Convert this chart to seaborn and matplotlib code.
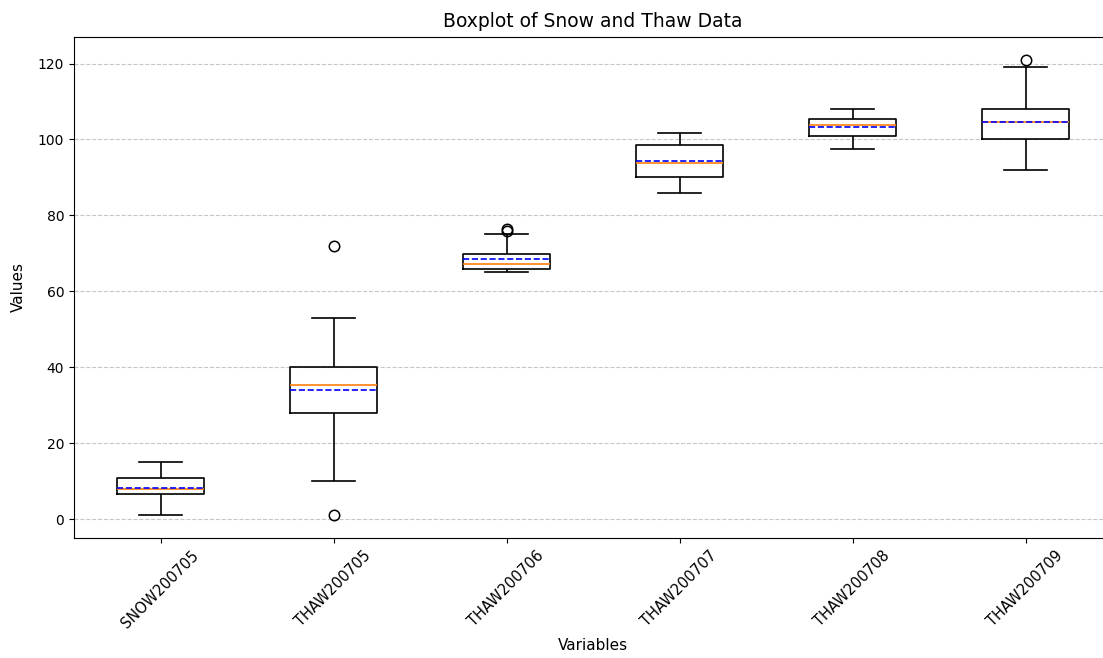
import matplotlib
matplotlib.use("Agg")
import matplotlib.pyplot as plt
import seaborn as sns
import pandas as pd

# Variables (categories)
variables = ["SNOW200705", "THAW200705", "THAW200706", "THAW200707", "THAW200708", "THAW200709"]

# Sample values per variable (chosen to reproduce the quartiles, whiskers, means and outliers)
snow200705 = [1, 4, 6.6, 7.2, 8, 9, 10.8, 11.3, 15]
thaw200705 = [1, 10, 20, 28, 30, 33, 35.3, 37, 39, 40, 45, 53, 72]
thaw200706 = [65, 65, 65.2, 65.5, 66, 66, 66.2, 66.5, 67.3, 67.3, 67.5, 68,
              69.8, 70.2, 75, 75.8, 76.5]
thaw200707 = [86, 88, 90.1, 92, 93.8, 97.4, 98.6, 101, 101.8]
thaw200708 = [97.4, 99, 100.9, 102, 103.9, 104.5, 105.3, 107.7, 108.1]
thaw200709 = [92, 93, 95, 100, 100.5, 102, 104.7, 105, 106, 108, 112.3, 119, 121]

series = [snow200705, thaw200705, thaw200706, thaw200707, thaw200708, thaw200709]

rows = []
for name, vals in zip(variables, series):
    for v in vals:
        rows.append({"Variable": name, "Value": v})
df = pd.DataFrame(rows)

W, H = 1103, 658
fig = plt.figure(figsize=(W / 100, H / 100), dpi=100)
ax = fig.add_axes([74 / W, 1 - 538 / H, (1112 - 74) / W, (538 - 37) / H])

sns.boxplot(
    data=df, x="Variable", y="Value", order=variables, ax=ax,
    fill=False, color="black", width=0.5, linewidth=1.2,
    medianprops=dict(color="#ff7f0e", linewidth=1.2),
    showmeans=True, meanline=True,
    meanprops=dict(color="blue", linestyle="--", linewidth=1.2),
    flierprops=dict(marker="o", markerfacecolor="none", markeredgecolor="black",
                    markersize=7.5, markeredgewidth=1.1),
    whiskerprops=dict(color="black"), capprops=dict(color="black"),
)

ax.set_xlim(-0.5, len(variables) - 0.5)
ax.yaxis.grid(True, linestyle="--", color="#b0b0b0", alpha=0.7)
ax.xaxis.grid(False)
ax.set_axisbelow(True)
ax.spines["right"].set_visible(False)
ax.set_title("Boxplot of Snow and Thaw Data", fontsize=13.5, pad=7)
ax.set_xlabel("Variables", fontsize=11, labelpad=5)
ax.set_ylabel("Values", fontsize=11, labelpad=9)
ax.tick_params(axis="y", labelsize=10)
ax.tick_params(axis="x", labelsize=10.5)
plt.setp(ax.get_xticklabels(), rotation=45)

fig.savefig("out.png", dpi=100)
